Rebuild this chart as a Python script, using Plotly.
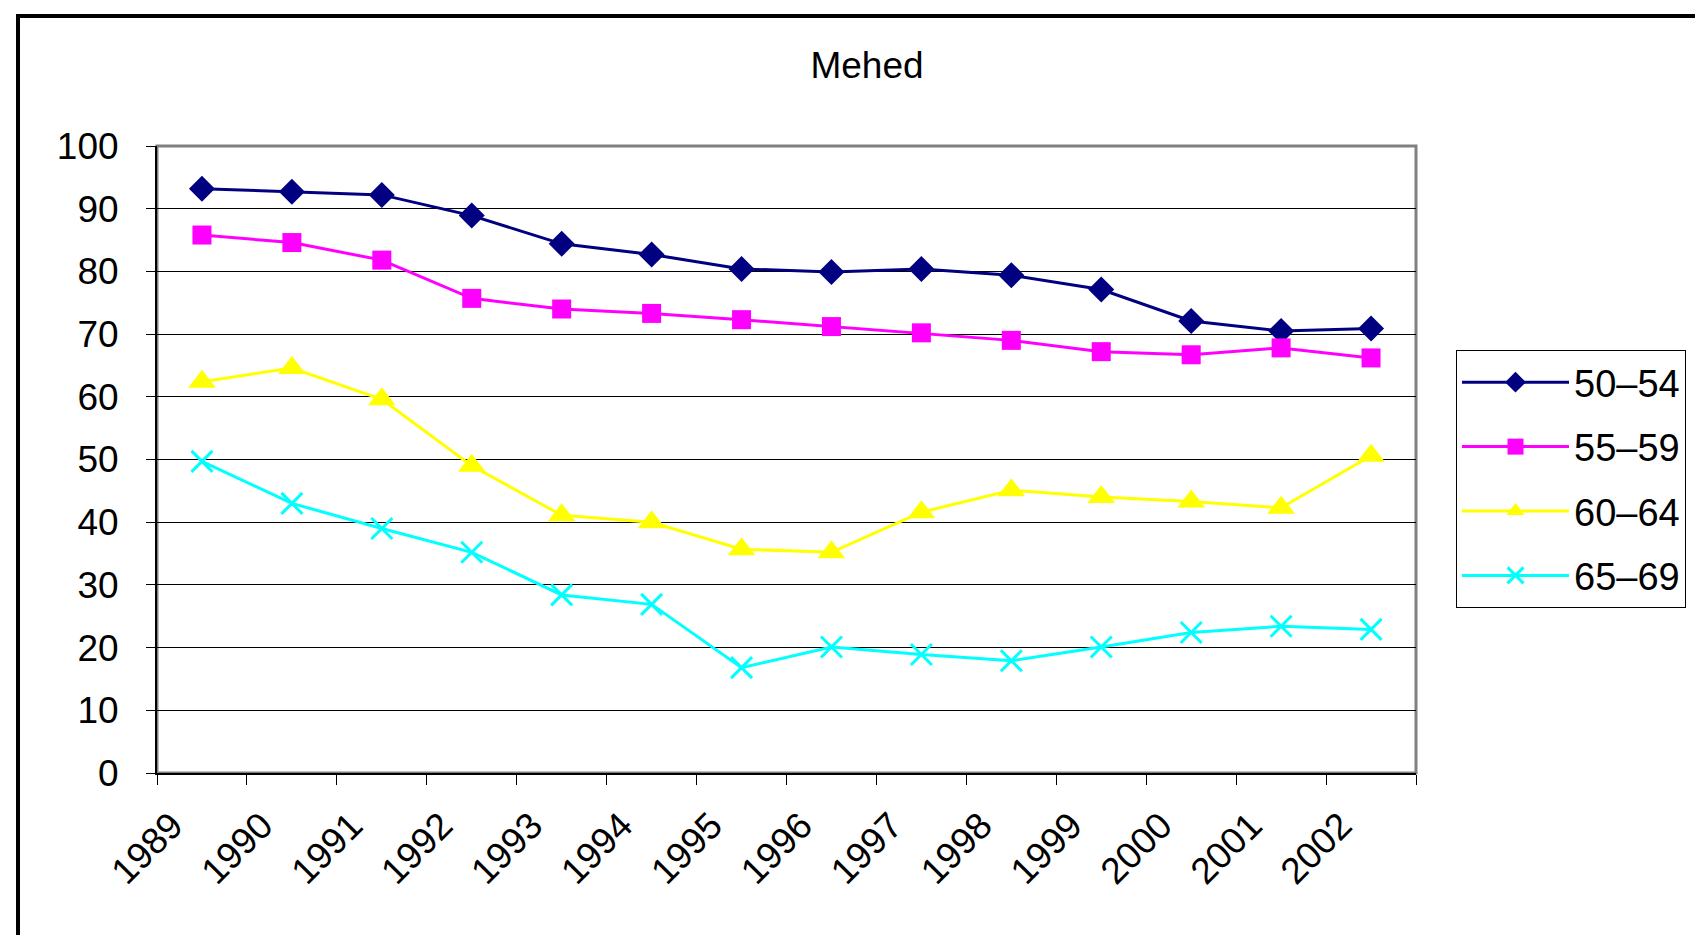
import plotly.graph_objects as go

years = [str(y) for y in range(1989, 2003)]

age_groups = ["50–54", "55–59", "60–64", "65–69"]

vals_50_54 = [93.2, 92.7, 92.2, 88.9, 84.4, 82.7, 80.4, 79.9, 80.4, 79.4, 77.1, 72.1, 70.5, 70.9]
vals_55_59 = [85.8, 84.6, 81.8, 75.7, 74.0, 73.3, 72.3, 71.2, 70.2, 69.0, 67.2, 66.7, 67.8, 66.2]
vals_60_64 = [62.4, 64.6, 59.6, 49.0, 41.1, 40.0, 35.7, 35.2, 41.6, 45.1, 44.0, 43.3, 42.3, 50.6]
vals_65_69 = [49.7, 43.0, 39.0, 35.2, 28.4, 26.9, 16.8, 20.1, 18.9, 17.9, 20.1, 22.4, 23.4, 22.9]

series = [vals_50_54, vals_55_59, vals_60_64, vals_65_69]
colors = ["#000080", "#FF00FF", "#FFFF00", "#00FFFF"]
symbols = ["diamond", "square", "triangle-up", "x-thin"]
sizes = [20, 19, 24, 21]

W, H = 1703, 935
L, R, T, B = 149, 1408, 138, 765
FONT = "Liberation Sans, Arial, sans-serif"

fig = go.Figure()
for name, vals, col, sym, sz in zip(age_groups, series, colors, symbols, sizes):
    marker = dict(symbol=sym, size=sz, color=col)
    if sym == "x-thin":
        marker["line"] = dict(color=col, width=3)
    fig.add_trace(go.Scatter(
        x=years, y=vals, name=name, mode="lines+markers",
        line=dict(color=col, width=3), marker=marker,
        legendgroup=name,
    ))

pw, ph = R - L, B - T


def px_x(p):
    return (p - L) / pw


def px_y(p):
    return (B - p) / ph


# plot-area frame (grey) and outer chart border (black)
fig.add_shape(type="rect", xref="paper", yref="paper", x0=0, x1=1, y0=0, y1=1,
              line=dict(color="#808080", width=3), layer="below")
fig.add_shape(type="rect", xref="paper", yref="paper",
              x0=px_x(10), x1=px_x(1760), y0=px_y(990), y1=px_y(8),
              line=dict(color="black", width=4))

fig.update_layout(
    width=W, height=H,
    margin=dict(l=L, r=W - R, t=T, b=H - B),
    paper_bgcolor="white", plot_bgcolor="white",
    font=dict(family=FONT, color="black", size=37),
    title=dict(text="Mehed", x=859 / W, xref="container", xanchor="center",
               y=1 - 57 / H, yref="container", yanchor="middle",
               font=dict(size=37, family=FONT, color="black")),
    legend=dict(x=px_x(1448), y=px_y(342), xanchor="left", yanchor="top",
                bgcolor="white", bordercolor="black", borderwidth=1,
                font=dict(size=38, family=FONT), tracegroupgap=12,
                itemwidth=107),
    showlegend=True,
)

fig.update_xaxes(
    type="category", range=[-0.5, len(years) - 0.5], tickson="boundaries",
    ticks="outside", ticklen=10,
    tickcolor="black", tickwidth=1, showgrid=False, showline=True,
    linecolor="black", linewidth=2, tickangle=-45,
    tickfont=dict(size=37, family=FONT), ticklabelshift=-30, ticklabelstandoff=14,
)
fig.update_yaxes(
    range=[0, 100], dtick=10, ticks="outside", ticklen=9, tickcolor="black",
    showgrid=True, gridcolor="black", gridwidth=1, showline=True,
    linecolor="black", linewidth=2, zeroline=False,
    tickfont=dict(size=37, family=FONT), ticklabelstandoff=20,
)

fig.write_html("out.html")
